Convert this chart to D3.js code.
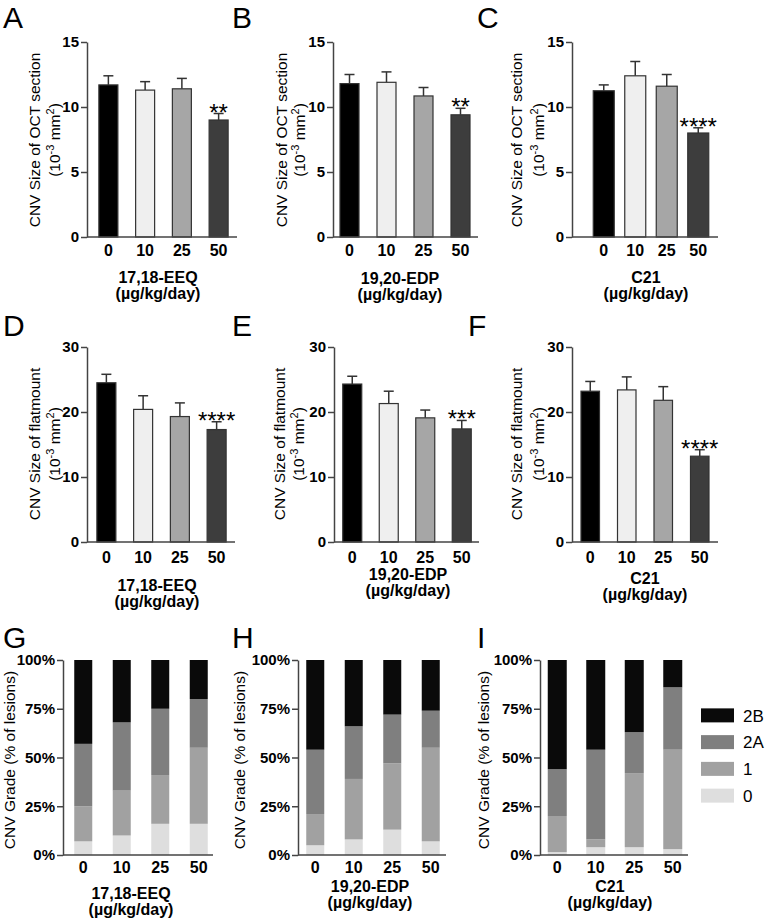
<!DOCTYPE html>
<meta charset="utf-8">
<style>
body { margin: 0; background: #fff; }
text { font-family: Arial, "Liberation Sans", sans-serif; }
</style>
<body>
<script src="https://d3js.org/d3.v7.min.js"></script>
<script>

// doses on every x axis
var doses = ["0", "10", "25", "50"];

// CNV size of OCT section (10^-3 mm2), mean and upper error
var octEEQ = [11.7, 11.3, 11.4, 9.0];
var octEEQErr = [0.7, 0.65, 0.8, 0.5];
var octEDP = [11.8, 11.9, 10.85, 9.4];
var octEDPErr = [0.7, 0.8, 0.65, 0.5];
var octC21 = [11.25, 12.4, 11.6, 8.0];
var octC21Err = [0.45, 1.1, 0.9, 0.4];

// CNV size of flatmount (10^-3 mm2)
var flatEEQ = [24.5, 20.4, 19.3, 17.3];
var flatEEQErr = [1.3, 2.1, 2.1, 1.2];
var flatEDP = [24.3, 21.3, 19.1, 17.4];
var flatEDPErr = [1.2, 1.9, 1.2, 1.3];
var flatC21 = [23.2, 23.4, 21.8, 13.2];
var flatC21Err = [1.5, 2.0, 2.1, 1.0];

// significance marks
var starsOctEEQ = ["", "", "", "**"];
var starsOctEDP = ["", "", "", "**"];
var starsOctC21 = ["", "", "", "****"];
var starsFlatEEQ = ["", "", "", "****"];
var starsFlatEDP = ["", "", "", "***"];
var starsFlatC21 = ["", "", "", "****"];

// CNV grades, % of lesions per dose (grade 0, 1, 2A, 2B)
var grades = ["0", "1", "2A", "2B"];
var gradeEEQ = [[7, 18, 32, 43], [10, 23, 35, 32], [16, 25, 34, 25], [16, 39, 25, 20]];
var gradeEDP = [[5, 16, 33, 46], [8, 31, 27, 34], [13, 34, 25, 28], [7, 48, 19, 26]];
var gradeC21 = [[1.5, 18.5, 24, 56], [4, 4, 46, 46], [4, 38, 21, 37], [3, 51, 32, 14]];

// tick values
var octTicks = [0, 5, 10, 15];
var flatTicks = [0, 10, 20, 30];
var gradeTicks = [0, 25, 50, 75, 100];

var barColors = ["#000000", "#efefef", "#a6a6a6", "#3d3d3d"];
var gradeColors = {"0": "#dedede", "1": "#a1a1a1", "2A": "#7f7f7f", "2B": "#0a0a0a"};

var svg = d3.select("body").append("svg")
    .attr("width", 765)
    .attr("height", 923);

function styleAxis(sel) {
  sel.select(".domain").attr("stroke", "#444").attr("stroke-width", 1.5);
  sel.selectAll(".tick line").attr("stroke", "#444").attr("stroke-width", 1.5);
  sel.selectAll(".tick text")
      .attr("fill", "#000")
      .style("font-size", "15px")
      .style("font-weight", "bold");
}

function panelLetter(letter, x, y) {
  svg.append("text")
      .attr("x", x).attr("y", y)
      .style("font-size", "30px")
      .text(letter);
}

function yTitle(lines, x, yc) {
  lines.forEach(function(l, i) {
    var t = svg.append("text")
        .attr("transform", "translate(" + x[i] + "," + yc + ") rotate(-90)")
        .attr("text-anchor", "middle")
        .attr("dy", "0.35em")
        .style("font-size", "15.5px");
    if (l === "unit") {
      t.append("tspan").text("(10");
      t.append("tspan").attr("dy", -6).style("font-size", "11px").text("-3");
      t.append("tspan").attr("dy", 6).text(" mm");
      t.append("tspan").attr("dy", -6).style("font-size", "11px").text("2");
      t.append("tspan").attr("dy", 6).text(")");
    } else {
      t.text(l);
    }
  });
}

function xTitle(name, x, y) {
  [name, "(\u00b5g/kg/day)"].forEach(function(s, i) {
    svg.append("text")
        .attr("x", x).attr("y", y + i * 16)
        .attr("text-anchor", "middle")
        .style("font-size", "16px")
        .style("font-weight", "bold")
        .text(s);
  });
}

function xLabels(x, yPos) {
  svg.append("g").selectAll("text")
    .data(doses)
    .enter().append("text")
      .attr("x", function(d) { return x(d) + x.bandwidth() / 2; })
      .attr("y", yPos)
      .attr("text-anchor", "middle")
      .style("font-size", "16px")
      .style("font-weight", "bold")
      .text(function(d) { return d; });
}

function barPanel(p) {
  var x = d3.scaleBand().domain(doses).range([p.b0, p.b1]);
  var y = d3.scaleLinear().domain([0, p.ticks[p.ticks.length - 1]]).range([p.bottom, p.top]);
  var g = svg.append("g");
  var rows = doses.map(function(d, i) {
    return {dose: d, v: p.values[i], e: p.err[i], s: p.stars[i], c: barColors[i]};
  });

  // error bars (upper only)
  var eb = g.selectAll(".err").data(rows).enter().append("g");
  eb.append("line")
      .attr("x1", function(d) { return x(d.dose) + x.bandwidth() / 2; })
      .attr("x2", function(d) { return x(d.dose) + x.bandwidth() / 2; })
      .attr("y1", function(d) { return y(d.v); })
      .attr("y2", function(d) { return y(d.v + d.e); })
      .attr("stroke", "#333").attr("stroke-width", 1.5);
  eb.append("line")
      .attr("x1", function(d) { return x(d.dose) + x.bandwidth() / 2 - 5; })
      .attr("x2", function(d) { return x(d.dose) + x.bandwidth() / 2 + 5; })
      .attr("y1", function(d) { return y(d.v + d.e); })
      .attr("y2", function(d) { return y(d.v + d.e); })
      .attr("stroke", "#333").attr("stroke-width", 1.5);

  // bars
  g.selectAll(".bar").data(rows).enter().append("rect")
      .attr("x", function(d) { return x(d.dose) + x.bandwidth() / 2 - p.bw / 2; })
      .attr("width", p.bw)
      .attr("y", function(d) { return y(d.v); })
      .attr("height", function(d) { return y(0) - y(d.v); })
      .attr("fill", function(d) { return d.c; })
      .attr("stroke", "#333").attr("stroke-width", 1.2);

  // stars
  g.selectAll(".star").data(rows).enter().append("text")
      .attr("x", function(d) { return x(d.dose) + x.bandwidth() / 2; })
      .attr("y", function(d) { return y(d.v + d.e) + 7; })
      .attr("text-anchor", "middle")
      .style("font-size", "24px")
      .text(function(d) { return d.s; });

  // axes
  g.append("g")
      .attr("transform", "translate(" + p.ax + ",0)")
      .call(d3.axisLeft(y).tickValues(p.ticks).tickSize(6).tickSizeOuter(0).tickPadding(2))
      .call(styleAxis);
  g.append("line")
      .attr("x1", p.ax).attr("x2", p.axEnd)
      .attr("y1", y(0)).attr("y2", y(0))
      .attr("stroke", "#444").attr("stroke-width", 1.5);

  xLabels(x, p.bottom + p.labOff);
}

function gradePanel(p) {
  var x = d3.scaleBand().domain(doses).range([p.b0, p.b1]);
  var y = d3.scaleLinear().domain([0, 100]).range([p.bottom, p.top]);
  var rows = doses.map(function(d, i) {
    var r = {dose: d};
    grades.forEach(function(k, j) { r[k] = p.values[i][j]; });
    return r;
  });
  var series = d3.stack().keys(grades)(rows);
  var g = svg.append("g");
  g.selectAll(".layer").data(series).enter().append("g")
      .attr("fill", function(s) { return gradeColors[s.key]; })
    .selectAll("rect").data(function(s) { return s; }).enter().append("rect")
      .attr("x", function(d) { return x(d.data.dose) + x.bandwidth() / 2 - p.bw / 2; })
      .attr("width", p.bw)
      .attr("y", function(d) { return y(d[1]); })
      .attr("height", function(d) { return y(d[0]) - y(d[1]); });

  g.append("g")
      .attr("transform", "translate(" + p.ax + ",0)")
      .call(d3.axisLeft(y).tickValues(gradeTicks).tickSize(6).tickSizeOuter(0).tickPadding(2)
        .tickFormat(function(d) { return d + "%"; }))
      .call(styleAxis);
  g.append("line")
      .attr("x1", p.ax).attr("x2", p.axEnd)
      .attr("y1", y(0)).attr("y2", y(0))
      .attr("stroke", "#444").attr("stroke-width", 1.5);

  xLabels(x, p.bottom + 18);
}

// row 1: OCT section
barPanel({values: octEEQ, err: octEEQErr, stars: starsOctEEQ, ticks: octTicks,
  b0: 90, b1: 237, bw: 19, ax: 87, axEnd: 237, top: 42, bottom: 237, labOff: 19});
barPanel({values: octEDP, err: octEDPErr, stars: starsOctEDP, ticks: octTicks,
  b0: 331, b1: 479, bw: 19, ax: 333, axEnd: 478, top: 42, bottom: 237, labOff: 19});
barPanel({values: octC21, err: octC21Err, stars: starsOctC21, ticks: octTicks,
  b0: 588, b1: 714, bw: 21, ax: 572, axEnd: 718, top: 42, bottom: 237, labOff: 19});

// row 2: flatmount
barPanel({values: flatEEQ, err: flatEEQErr, stars: starsFlatEEQ, ticks: flatTicks,
  b0: 88, b1: 235, bw: 19, ax: 87, axEnd: 235, top: 347, bottom: 542, labOff: 21});
barPanel({values: flatEDP, err: flatEDPErr, stars: starsFlatEDP, ticks: flatTicks,
  b0: 334, b1: 480, bw: 19, ax: 334, axEnd: 479, top: 347, bottom: 542, labOff: 21});
barPanel({values: flatC21, err: flatC21Err, stars: starsFlatC21, ticks: flatTicks,
  b0: 572, b1: 718, bw: 18.5, ax: 572, axEnd: 718, top: 347, bottom: 542, labOff: 21});

// row 3: grades
gradePanel({values: gradeEEQ, b0: 64, b1: 218, bw: 18, ax: 63, axEnd: 213, top: 660, bottom: 855});
gradePanel({values: gradeEDP, b0: 296, b1: 450, bw: 18, ax: 298, axEnd: 446, top: 660, bottom: 855});
gradePanel({values: gradeC21, b0: 538, b1: 692, bw: 19, ax: 540, axEnd: 688, top: 660, bottom: 855});

// titles
yTitle(["CNV Size of OCT section", "unit"], [35, 55], 140);
yTitle(["CNV Size of OCT section", "unit"], [282, 300], 140);
yTitle(["CNV Size of OCT section", "unit"], [517, 539], 140);
yTitle(["CNV Size of flatmount", "unit"], [35, 55], 444);
yTitle(["CNV Size of flatmount", "unit"], [280, 299], 444);
yTitle(["CNV Size of flatmount", "unit"], [517, 539], 444);
yTitle(["CNV Grade (% of lesions)"], [10], 760);
yTitle(["CNV Grade (% of lesions)"], [240], 760);
yTitle(["CNV Grade (% of lesions)"], [484], 760);

xTitle("17,18-EEQ", 158, 283);
xTitle("19,20-EDP", 400, 284);
xTitle("C21", 646, 283);
xTitle("17,18-EEQ", 157, 591);
xTitle("19,20-EDP", 408, 580);
xTitle("C21", 645, 584);
xTitle("17,18-EEQ", 131, 899);
xTitle("19,20-EDP", 370, 892);
xTitle("C21", 610, 892);

panelLetter("A", 3, 28);
panelLetter("B", 232, 28);
panelLetter("C", 477, 28);
panelLetter("D", 3, 336);
panelLetter("E", 232, 336);
panelLetter("F", 468, 336);
panelLetter("G", 3, 648);
panelLetter("H", 232, 648);
panelLetter("I", 477, 648);

// legend for grades
var legendY = d3.scaleBand().domain(grades.slice().reverse()).range([702, 809]);
var leg = svg.append("g").selectAll("g")
    .data(grades.slice().reverse())
    .enter().append("g")
    .attr("transform", function(d) { return "translate(701," + (legendY(d) + legendY.bandwidth() / 2) + ")"; });
leg.append("rect")
    .attr("y", -7).attr("width", 33).attr("height", 14)
    .attr("fill", function(d) { return gradeColors[d]; });
leg.append("text")
    .attr("x", 42).attr("dy", "0.36em")
    .style("font-size", "17px")
    .text(function(d) { return d; });

</script>
</body>
